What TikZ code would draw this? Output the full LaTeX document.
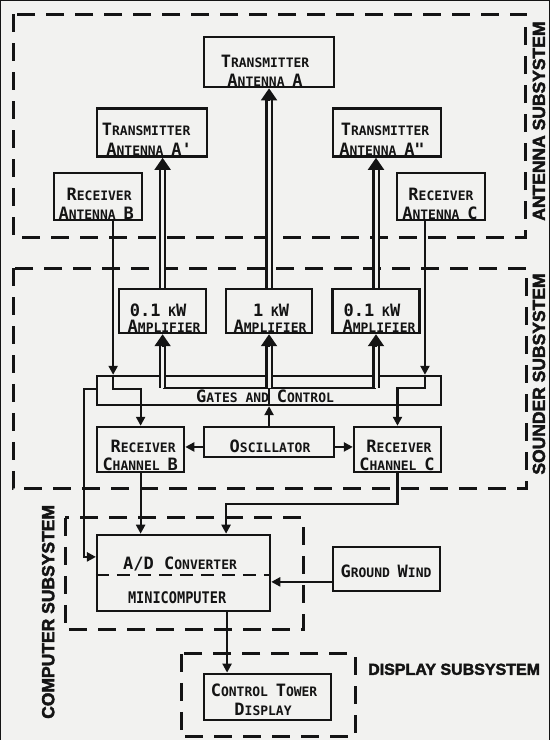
\documentclass[tikz,border=0pt]{standalone}
\usepackage{fontspec}
\usetikzlibrary{arrows.meta,calc}
\newfontfamily\lett{DejaVu Sans Mono}
\newfontfamily\lettn[FakeStretch=0.85]{DejaVu Sans Mono}
\newfontfamily\heavy[FakeBold=2.5]{Liberation Sans}
\newcommand\Bg[1]{{\fontsize{17}{17}\selectfont #1}}
\definecolor{bg}{RGB}{242,242,240}
\definecolor{ink}{RGB}{20,20,20}
\newcommand\dblar[2]{\draw[dbl, shorten >=8pt] (#1) -- (#2); \draw[dhead] ($(#2)!12pt!(#1)$) -- (#2);}
\begin{document}
\begin{tikzpicture}[x=1pt,y=-1pt, every path/.style={draw=ink},
  box/.style={draw=ink, line width=2.4pt, inner sep=0pt},
  txt/.style={font=\lett\bfseries\fontsize{13}{13}\selectfont, anchor=base, inner sep=0pt, text=ink},
  sub/.style={draw=ink, line width=3pt, dash pattern=on 18pt off 11pt},
  lab/.style={font=\heavy\bfseries\fontsize{16}{16}\selectfont, inner sep=0pt, text=ink},
  rlab/.style={lab, rotate=90, font=\heavy\bfseries\fontsize{17.5}{17.5}\selectfont},
  con/.style={draw=ink, line width=2.2pt, -{Triangle[length=9pt,width=9pt]}},
  plain/.style={draw=ink, line width=2.2pt},
  dbl/.style={draw=ink, line width=2.2pt, double=bg, double distance=3pt},
  dhead/.style={draw=ink, line width=2pt, -{Triangle[length=12pt,width=16pt]}}]
\fill[bg] (0,0) rectangle (549,740);
\useasboundingbox (0,0) rectangle (549,740);
% subsystem frames
\draw[sub] (13,14) rectangle (526,237);
\draw[sub] (13,268) rectangle (527,489);
\draw[sub] (65,518) rectangle (303,630);
\draw[sub] (181,654) rectangle (355,737);
\node[rlab] (lant) at (539,121) {ANTENNA SUBSYSTEM};
\node[rlab] (lsnd) at (539,374) {SOUNDER SUBSYSTEM};
\node[rlab] (lcmp) at (48,612) {COMPUTER SUBSYSTEM};
\node[lab, anchor=base west] (ldsp) at (368,675) {DISPLAY SUBSYSTEM};
% boxes
\node[box, minimum width=130pt, minimum height=50pt] (txA) at (269,62) {};
\node[box, minimum width=110pt, minimum height=48pt] (txAp) at (152,132.5) {};
\node[box, minimum width=108pt, minimum height=48pt] (txApp) at (387,132.5) {};
\node[box, minimum width=88pt, minimum height=47pt] (rxAB) at (98,196.5) {};
\node[box, minimum width=88pt, minimum height=47pt] (rxAC) at (441,196.5) {};
\node[box, minimum width=87pt, minimum height=44pt] (ampL) at (162.5,311) {};
\node[box, minimum width=86pt, minimum height=44pt] (ampM) at (269,311) {};
\node[box, minimum width=87pt, minimum height=44pt] (ampR) at (376,311) {};
\node[box, minimum width=344pt, minimum height=29pt] (gates) at (269,390.5) {};
\node[box, minimum width=87pt, minimum height=45pt] (rxCB) at (140.5,449.5) {};
\node[box, minimum width=130pt, minimum height=30pt] (osc) at (269,442) {};
\node[box, minimum width=87pt, minimum height=45pt] (rxCC) at (397.5,449.5) {};
\node[box, minimum width=173pt, minimum height=76pt] (ad) at (183.5,573) {};
\node[box, minimum width=107pt, minimum height=44pt] (gw) at (386.5,569) {};
\node[box, minimum width=127pt, minimum height=46pt] (ctd) at (267.5,697) {};
% texts
\node[txt] (t1) at (265,67) {\Bg{T}RANSMITTER};
\node[txt] (t2) at (265,86) {\Bg{A}NTENNA \Bg{A}};
\node[txt] (t3) at (146,135) {\Bg{T}RANSMITTER};
\node[txt] (t4) at (149,155) {\Bg{A}NTENNA \Bg{A'}};
\node[txt] (t5) at (385,135) {\Bg{T}RANSMITTER};
\node[txt] (t6) at (382,155) {\Bg{A}NTENNA \Bg{A"}};
\node[txt] (t7) at (99,200) {\Bg{R}ECEIVER};
\node[txt] (t8) at (96,219) {\Bg{A}NTENNA \Bg{B}};
\node[txt] (t9) at (441,200) {\Bg{R}ECEIVER};
\node[txt] (t10) at (440,219) {\Bg{A}NTENNA \Bg{C}};
\node[txt] (t11) at (158,316) {\Bg{0.1} K\Bg{W}};
\node[txt] (t12) at (164,332) {\Bg{A}MPLIFIER};
\node[txt] (t13) at (271,316) {\Bg{1} K\Bg{W}};
\node[txt] (t14) at (270,332) {\Bg{A}MPLIFIER};
\node[txt] (t15) at (372,316) {\Bg{0.1} K\Bg{W}};
\node[txt] (t16) at (379,332) {\Bg{A}MPLIFIER};
\node[txt] (t17) at (265,403) {\Bg{G}ATES AND \Bg{C}ONTROL};
\node[txt] (t18) at (270,453) {\Bg{O}SCILLATOR};
\node[txt] (t19) at (143,453) {\Bg{R}ECEIVER};
\node[txt] (t20) at (140,471) {\Bg{C}HANNEL \Bg{B}};
\node[txt] (t21) at (399,453) {\Bg{R}ECEIVER};
\node[txt] (t22) at (397,471) {\Bg{C}HANNEL \Bg{C}};
\node[txt] (t23) at (180,570) {\Bg{A/D C}ONVERTER};
\node[txt, font=\lettn\bfseries\fontsize{16}{16}\selectfont] (t24) at (177,604) {MINICOMPUTER};
\node[txt] (t25) at (386,578) {\Bg{G}ROUND \Bg{W}IND};
\node[txt] (t26) at (264,697) {\Bg{C}ONTROL \Bg{T}OWER};
\node[txt] (t27) at (263,716) {\Bg{D}ISPLAY};
% A/D internal dashed divider
\draw[draw=ink, line width=2pt, dash pattern=on 13pt off 8pt] (ad.west |- 0,575) -- (ad.east |- 0,575);
% bus inside gates
\coordinate (busL) at (ampL.south |- 0,388);
\coordinate (busM) at (ampM.south |- 0,388);
\coordinate (busR) at (ampR.south |- 0,388);
\draw[plain] (busL) -- (busR);
\draw[plain] (busM) -- (busM |- gates.south);
% double lines
\dblar{busL}{ampL.south}
\dblar{busM}{ampM.south}
\dblar{busR}{ampR.south}
\dblar{ampL.north}{ampL.north |- txAp.south}
\dblar{ampM.north}{txA.south}
\dblar{ampR.north}{ampR.north |- txApp.south}
% oscillator
\draw[con] (osc.north) -- (gates.south);
\coordinate (oscL) at (osc.west |- 0,447);
\coordinate (oscR) at (osc.east |- 0,447);
\draw[con] (oscL) -- (oscL -| rxCB.east);
\draw[con] (oscR) -- (oscR -| rxCC.west);
% receiver antenna B
\coordinate (aB) at ([xshift=15pt]rxAB.south);
\coordinate (bB) at (aB |- 0,389);
\draw[con] (aB) -- (aB |- gates.north);
\draw[con] (aB |- gates.north) -- (bB) -| (rxCB.north);
% receiver antenna C
\coordinate (aC) at ([xshift=-16pt]rxAC.south);
\coordinate (bC) at (aC |- 0,388);
\draw[con] (aC) -- (aC |- gates.north);
\draw[con] (aC |- gates.north) -- (bC) -| (rxCC.north);
% gates to A/D
\coordinate (lk1) at (84,389);
\coordinate (lk2) at (84,557);
\draw[con] (gates.west |- lk1) -- (lk1) -- (lk2) -- (lk2 -| ad.west);
% receiver channels to A/D
\draw[con] (rxCB.south) -- (rxCB.south |- ad.north);
\coordinate (cc1) at (rxCC.south |- 0,504);
\coordinate (cc2) at (226,504);
\draw[con] (rxCC.south) -- (cc1) -- (cc2) -- (cc2 |- ad.north);
% ground wind
\coordinate (gwin) at (gw.west |- 0,582);
\draw[con] (gwin) -- (gwin -| ad.east);
% A/D to display
\coordinate (adb) at (ad.south -| 227,0);
\draw[con] (adb) -- (adb |- ctd.north);
\end{tikzpicture}
\end{document}
